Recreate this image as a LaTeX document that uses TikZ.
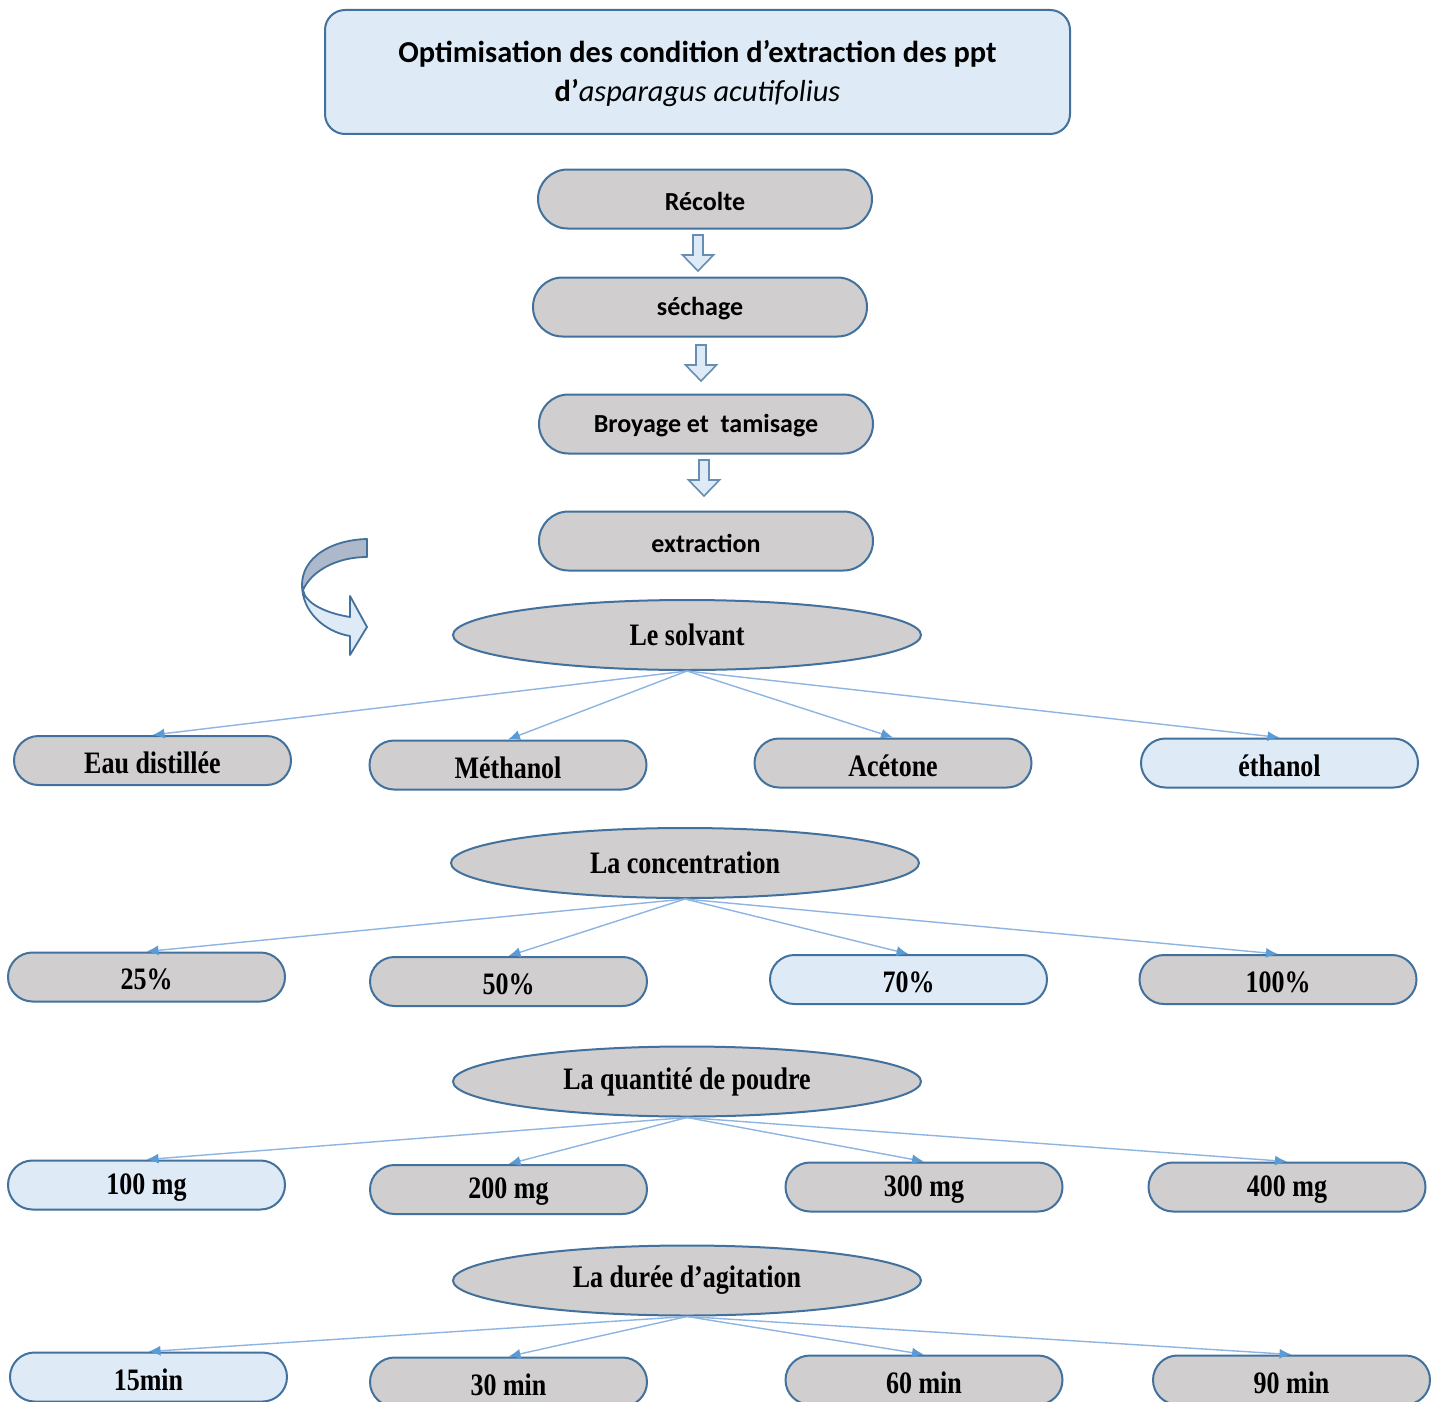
\documentclass[tikz,border=0pt]{standalone}
\usepackage{fontspec}
\setmainfont{Liberation Serif}
\newfontfamily\calfont{Carlito}
\usetikzlibrary{shapes.geometric,shapes.misc,arrows.meta}
\definecolor{bordercol}{HTML}{41719C}
\definecolor{grayfill}{HTML}{D0CECE}
\definecolor{lightblue}{HTML}{DEEBF7}
\definecolor{linkblue}{HTML}{8DB4E2}
\definecolor{tipblue}{HTML}{5B9BD5}
\definecolor{darkband}{HTML}{ADB9CA}
\newcommand{\sertxt}[1]{\raisebox{-1.2pt}[\height][\depth]{\scalebox{1}[1.2]{#1}}}
\newcommand{\ovaltxt}[1]{\scalebox{1}[1.2]{#1}}
\newcommand{\caltxt}[1]{\raisebox{-1pt}[\height][\depth]{#1}}
\tikzset{
  base/.style={draw=bordercol, line width=1pt, inner sep=0pt, text=black},
  topstep/.style={base, rounded rectangle, fill=grayfill, minimum width=167pt, minimum height=29.5pt,
    font=\calfont\bfseries\fontsize{13}{15}\selectfont},
  oval/.style={base, ellipse, fill=grayfill, minimum width=234pt, minimum height=35pt,
    font=\bfseries\fontsize{13}{15}\selectfont},
  pill/.style={base, rounded rectangle, fill=grayfill, minimum width=138.5pt, minimum height=24.5pt,
    font=\bfseries\fontsize{13}{15}\selectfont},
  pillblue/.style={pill, fill=lightblue},
  link/.style={draw=linkblue, line width=0.7pt, -{Latex[length=6pt,width=5pt,color=tipblue]}},
  blockarrow/.style={draw=bordercol!80, line width=0.8pt, fill=lightblue, line join=miter},
  blockdown/.pic={\draw[blockarrow] (-5,0) -- (5,0) -- (5,20) -- (15.5,20) -- (0,36) -- (-15.5,20) -- (-5,20) -- cycle;}
}
\begin{document}
\begin{tikzpicture}[x=0.5pt,y=-0.5pt]
\clip (0,0) rectangle (1440,1402);
\fill[white] (0,0) rectangle (1440,1402);

% title
\node[base, rectangle, rounded corners=10pt, fill=lightblue, minimum width=372.5pt, minimum height=62pt] (title) at (697.5,72) {};
\node[align=center, inner sep=0pt, font=\calfont\fontsize{15.2}{19.5}\selectfont] (titletext) at (697.5,74)
  {\bfseries Optimisation des condition d’extraction des ppt\\ {\bfseries d’}\itshape asparagus acutifolius};

% top steps
\node[topstep] (recolte) at (705,199) {\caltxt{Récolte}};
\node[topstep] (sechage) at (700,307) {\caltxt{séchage}};
\node[topstep] (broyage) at (706,424) {\caltxt{Broyage et\ \ tamisage}};
\node[topstep] (extraction) at (706,541) {\caltxt{extraction}};

\pic at (698,235) {blockdown};
\pic at (701,345) {blockdown};
\pic at (704,460) {blockdown};

% curved arrow
\draw[line width=0.9pt, draw=bordercol, fill=darkband, line join=round]
  (367,539) .. controls (330,540) and (302,558) .. (302,585)
  -- (303,590) .. controls (312,570) and (338,557) .. (367,557) -- cycle;
\draw[line width=0.9pt, draw=bordercol, fill=lightblue, line join=round]
  (302,585) .. controls (302,612) and (325,632) .. (350,636)
  -- (350,655) -- (367,627) -- (350,596) -- (350,617)
  .. controls (325,613) and (305,603) .. (303,590) -- cycle;

% solvant
\node[oval] (solvant) at (687,635) {\ovaltxt{Le solvant}};
\node[pill] (eau) at (152.5,760.5) {\sertxt{Eau distillée}};
\node[pill] (methanol) at (508,765) {\sertxt{Méthanol}};
\node[pill] (acetone) at (893,763) {\sertxt{Acétone}};
\node[pillblue] (ethanol) at (1279.5,763) {\sertxt{éthanol}};
\foreach \n in {eau,methanol,acetone,ethanol} \draw[link] (solvant.south) -- (\n.north);

% concentration
\node[oval] (conc) at (685,863) {\ovaltxt{La concentration}};
\node[pill] (c25) at (146.5,977) {\sertxt{25\%}};
\node[pill] (c50) at (508.5,981.5) {\sertxt{50\%}};
\node[pillblue] (c70) at (908.5,979.5) {\sertxt{70\%}};
\node[pill] (c100) at (1278,979.5) {\sertxt{100\%}};
\foreach \n in {c25,c50,c70,c100} \draw[link] (conc.south) -- (\n.north);

% quantite
\node[oval] (quant) at (687,1081.5) {\ovaltxt{La quantité de poudre}};
\node[pillblue] (q100) at (146.5,1185) {\sertxt{100 mg}};
\node[pill] (q200) at (508.5,1189.5) {\sertxt{200 mg}};
\node[pill] (q300) at (924,1187) {\sertxt{300 mg}};
\node[pill] (q400) at (1287,1187) {\sertxt{400 mg}};
\foreach \n in {q100,q200,q300,q400} \draw[link] (quant.south) -- (\n.north);

% duree
\node[oval] (duree) at (687,1280.5) {\ovaltxt{La durée d’agitation}};
\node[pillblue] (t15) at (148.5,1377) {\sertxt{15min}};
\node[pill] (t30) at (508.5,1382) {\sertxt{30 min}};
\node[pill] (t60) at (924,1380) {\sertxt{60 min}};
\node[pill] (t90) at (1291.5,1380) {\sertxt{90 min}};
\foreach \n in {t15,t30,t60,t90} \draw[link] (duree.south) -- (\n.north);
\end{tikzpicture}
\end{document}
